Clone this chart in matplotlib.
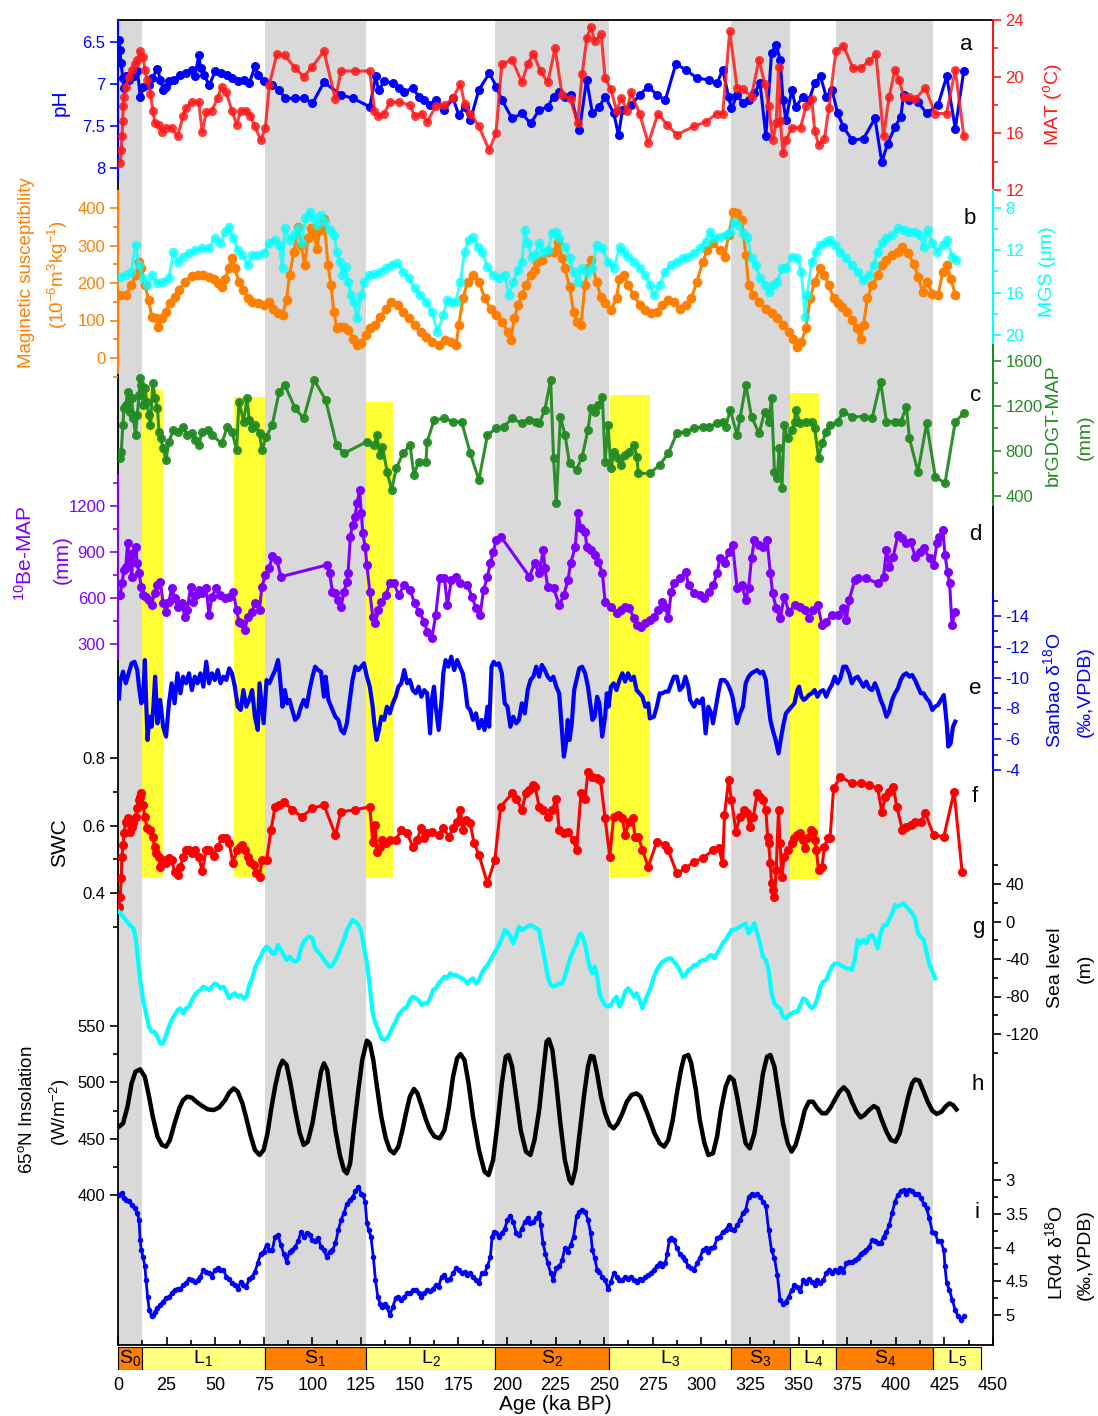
import numpy as np
import matplotlib
matplotlib.use('Agg')
import matplotlib.pyplot as plt
from matplotlib.patches import Rectangle

plt.rcParams['font.family'] = ['Liberation Sans', 'DejaVu Sans']
plt.rcParams['mathtext.default'] = 'regular'

# ---------------- data (age ka BP, value) ----------------
ph = [(0.5, 6.48), (1.0, 6.60), (1.5, 6.75), (2.5, 6.93), (3.0, 7.05), (4.0, 6.90), (5.5, 6.95), (8.0, 6.91),
      (10.0, 6.85), (11.5, 7.16), (13.0, 7.03), (16.0, 7.01), (17.5, 6.93), (20.3, 6.82), (21.8, 6.95), (23.3, 7.07),
      (24.7, 7.03), (26.3, 6.97), (29.0, 6.95), (32.0, 6.89), (35.0, 6.87), (38.0, 6.83), (39.5, 6.91), (41.6, 6.66),
      (42.5, 6.81), (44.0, 6.89), (47.0, 7.01), (50.0, 6.85), (53.0, 6.87), (56.0, 6.89), (58.7, 6.93), (61.6, 6.97),
      (64.6, 6.95), (67.5, 6.99), (70.5, 6.79), (72.0, 6.89), (75.0, 6.97), (79.3, 7.01), (82.9, 7.07), (85.9, 7.17),
      (91.2, 7.17), (95.6, 7.17), (100.0, 7.23), (105.9, 6.98), (114.8, 7.13), (120.7, 7.17), (129.5, 7.27),
      (132.5, 6.91), (134.0, 7.07), (137.0, 6.97), (141.4, 6.99), (144.3, 7.05), (147.3, 7.09), (151.7, 7.05),
      (154.6, 7.15), (157.6, 7.19), (160.5, 7.25), (163.5, 7.19), (167.9, 7.31), (172.3, 7.17), (175.3, 7.37),
      (178.2, 7.27), (181.2, 7.43), (185.6, 7.07), (191.0, 6.87), (194.5, 7.03), (197.4, 7.19), (202.7, 7.41),
      (207.7, 7.35), (212.2, 7.47), (216.6, 7.31), (221.0, 7.27), (224.0, 7.15), (226.9, 7.09), (229.9, 7.15),
      (232.8, 7.13), (237.3, 7.55), (241.0, 6.95), (244.0, 7.35), (247.6, 7.27), (250.5, 7.15), (255.0, 7.35),
      (257.4, 7.61), (259.4, 7.31), (263.9, 7.25), (268.3, 7.13), (272.7, 7.03), (277.1, 7.13), (281.5, 7.19),
      (286.9, 6.76), (291.9, 6.83), (297.8, 6.93), (303.7, 6.95), (308.1, 6.99), (311.0, 6.83), (314.0, 7.15),
      (315.5, 7.29), (318.4, 7.13), (321.4, 7.23), (324.3, 7.19), (327.3, 7.11), (330.2, 6.99), (333.2, 7.62),
      (336.1, 6.63), (338.5, 6.53), (340.5, 6.71), (342.0, 7.19), (343.5, 7.43), (346.5, 7.07), (348.5, 7.27),
      (352.4, 7.15), (355.4, 7.19), (358.3, 6.99), (361.3, 6.91), (364.2, 7.15), (367.2, 7.07), (370.1, 7.35),
      (373.1, 7.51), (377.5, 7.67), (383.4, 7.65), (389.3, 7.41), (392.8, 7.93), (395.8, 7.71), (399.6, 7.51),
      (402.6, 7.39), (404.0, 7.13), (407.0, 7.19), (411.4, 7.21), (415.8, 7.35), (421.7, 7.25), (426.2, 6.91),
      (430.6, 7.53), (435.0, 6.84)]

mat = [(1.1, 13.9), (1.7, 14.8), (2.0, 15.8), (2.5, 16.9), (2.6, 17.9), (3.1, 18.6), (4.0, 19.3), (5.5, 20.0),
       (7.0, 20.5), (8.5, 20.9), (9.9, 21.2), (11.4, 21.8), (12.9, 21.4), (13.8, 20.5), (15.0, 19.8), (16.7, 18.8),
       (17.9, 17.6), (19.1, 16.7), (20.9, 16.6), (22.6, 16.1), (24.7, 16.4), (27.6, 16.4), (30.6, 15.8), (33.5, 17.2),
       (35.0, 17.8), (38.0, 18.2), (41.5, 18.2), (43.3, 16.1), (45.4, 17.5), (48.3, 17.6), (51.3, 18.5), (53.3, 19.3),
       (55.7, 18.9), (58.6, 17.6), (61.0, 16.6), (63.1, 17.6), (66.0, 17.6), (68.1, 17.2), (70.4, 16.5), (73.4, 15.5),
       (75.8, 16.4), (77.8, 19.4), (81.7, 21.6), (85.8, 21.5), (91.1, 20.6), (95.5, 20.0), (99.9, 20.7),
       (105.9, 21.8), (111.8, 18.4), (114.7, 20.4), (122.1, 20.4), (129.5, 20.4), (131.9, 17.6), (133.9, 17.2),
       (136.9, 17.4), (139.8, 18.2), (144.3, 18.2), (150.2, 18.0), (152.5, 17.2), (156.1, 17.4), (159.0, 16.8),
       (163.4, 17.9), (167.9, 18.0), (172.3, 18.5), (176.1, 19.5), (178.2, 18.1), (181.2, 17.4), (185.6, 16.5),
       (190.9, 14.8), (194.4, 16.0), (197.4, 20.9), (202.7, 21.2), (207.7, 19.6), (210.7, 20.9), (213.6, 21.6),
       (217.3, 20.4), (221.0, 19.6), (224.8, 22.0), (228.4, 18.7), (232.8, 18.4), (236.4, 16.7), (238.7, 20.2),
       (241.1, 22.7), (243.1, 23.5), (245.2, 22.5), (248.5, 23.0), (250.5, 19.9), (253.5, 19.1), (256.4, 17.6),
       (258.8, 18.5), (261.7, 17.6), (263.8, 18.9), (268.2, 17.4), (272.7, 15.3), (277.7, 17.4), (282.4, 16.6),
       (287.4, 15.9), (296.3, 16.5), (302.2, 16.8), (308.1, 17.4), (311.0, 17.4), (314.6, 23.2), (318.4, 19.2),
       (321.4, 19.1), (325.8, 18.6), (329.6, 21.2), (332.6, 19.5), (334.7, 17.9), (336.7, 15.5), (338.5, 16.7),
       (339.7, 20.7), (340.6, 16.9), (342.0, 14.6), (343.5, 15.5), (346.5, 16.4), (351.0, 16.4), (353.8, 17.9),
       (356.8, 18.4), (358.3, 16.2), (360.3, 15.2), (363.3, 15.6), (365.6, 17.8), (369.2, 21.8), (373.0, 22.2),
       (378.0, 20.6), (381.9, 20.6), (386.3, 21.1), (389.8, 21.6), (393.7, 15.8), (396.6, 18.6), (399.6, 20.5),
       (401.7, 19.8), (404.0, 18.6), (407.0, 18.6), (409.9, 18.4), (415.2, 19.2), (420.3, 17.4), (426.1, 17.4),
       (430.6, 20.5), (435.0, 15.8)]

mag_sus = [(1.1, 168), (4.0, 168), (6.9, 195), (9.0, 221), (10.8, 257), (12.0, 239), (13.8, 195), (15.8, 155),
           (17.3, 110), (19.7, 106), (20.8, 84), (22.6, 106), (24.7, 124), (26.7, 146), (29.1, 164), (31.5, 181),
           (34.4, 204), (37.9, 220), (40.9, 221), (43.9, 221), (46.8, 217), (49.2, 212), (51.2, 199), (53.3, 190),
           (55.1, 212), (57.1, 239), (58.6, 266), (60.1, 239), (62.2, 204), (64.5, 181), (66.9, 159), (69.0, 150),
           (71.9, 146), (74.9, 141), (77.8, 150), (79.9, 132), (82.2, 119), (84.6, 115), (86.7, 155), (88.2, 221),
           (90.5, 284), (92.6, 350), (94.1, 301), (96.1, 248), (97.6, 319), (99.4, 346), (100.9, 328), (102.3, 292),
           (103.8, 341), (106.0, 372), (108.0, 248), (109.5, 195), (111.0, 124), (112.5, 79), (114.3, 84),
           (116.3, 84), (118.4, 75), (120.8, 52), (123.1, 35), (125.2, 39), (127.3, 61), (129.6, 79), (132.0, 88),
           (134.9, 110), (137.9, 132), (140.5, 150), (143.8, 141), (146.7, 124), (149.7, 106), (152.6, 88),
           (155.6, 70), (158.5, 57), (161.5, 44), (165.0, 35), (168.0, 48), (171.5, 44), (173.9, 35), (175.3, 88),
           (177.4, 159), (179.8, 204), (182.7, 221), (185.7, 204), (188.6, 159), (191.6, 132), (194.5, 115),
           (197.5, 97), (200.4, 70), (201.9, 48), (203.9, 106), (205.7, 141), (207.8, 168), (209.8, 195),
           (212.2, 221), (214.2, 235), (215.7, 257), (218.1, 261), (221.0, 284), (224.0, 284), (226.3, 310),
           (228.4, 266), (229.9, 239), (232.2, 190), (234.3, 124), (235.8, 97), (238.1, 88), (240.2, 195),
           (241.7, 239), (243.2, 261), (246.1, 204), (248.2, 164), (250.5, 146), (253.5, 128), (256.4, 159),
           (257.9, 212), (260.0, 221), (262.3, 195), (265.3, 168), (268.2, 141), (271.2, 128), (274.1, 119),
           (277.1, 124), (280.0, 141), (283.0, 155), (286.0, 150), (288.9, 132), (291.9, 141), (294.8, 159),
           (297.8, 204), (300.7, 257), (303.1, 288), (306.0, 306), (309.6, 288), (312.0, 270), (314.0, 328),
           (316.4, 390), (318.4, 386), (320.8, 368), (322.9, 275), (324.3, 195), (326.7, 168), (329.7, 150),
           (333.2, 132), (336.1, 119), (339.1, 106), (342.0, 88), (345.0, 70), (347.0, 52), (349.4, 30), (351.5, 44),
           (353.8, 79), (355.9, 159), (358.3, 204), (361.2, 239), (363.3, 221), (365.6, 195), (368.0, 159),
           (370.1, 146), (372.4, 137), (375.1, 124), (377.5, 101), (379.8, 79), (381.9, 52), (383.4, 88),
           (385.4, 159), (387.8, 195), (390.8, 221), (392.8, 248), (395.2, 261), (398.1, 275), (401.1, 284),
           (403.4, 297), (406.4, 279), (409.3, 252), (411.4, 217), (413.8, 177), (415.9, 204), (418.8, 172),
           (421.8, 168), (424.1, 230), (426.2, 248), (428.3, 212), (430.6, 168)]

mgs = [(1.1, 14.49), (4.0, 14.33), (6.9, 14.02), (9.0, 11.50), (10.8, 13.39), (12.9, 14.65), (14.9, 15.28),
       (17.3, 14.33), (20.3, 15.12), (23.2, 14.96), (26.2, 14.65), (28.5, 12.13), (30.6, 13.07), (33.6, 12.60),
       (36.5, 12.28), (39.5, 11.97), (43.3, 11.81), (46.8, 11.81), (49.8, 10.87), (52.7, 11.34), (55.1, 10.24),
       (57.2, 9.76), (59.2, 10.87), (61.6, 11.97), (64.0, 12.44), (66.9, 13.39), (69.0, 12.44), (71.9, 12.44),
       (74.9, 12.28), (77.8, 11.34), (80.8, 11.02), (82.9, 11.50), (84.6, 13.70), (85.8, 9.92), (88.2, 11.02),
       (90.5, 10.55), (92.6, 9.92), (94.6, 11.34), (96.4, 8.98), (98.5, 8.35), (100.6, 8.98), (102.3, 9.61),
       (104.4, 8.66), (106.5, 9.29), (108.8, 10.08), (111.2, 10.55), (112.4, 12.13), (114.1, 13.07),
       (115.3, 14.33), (117.1, 13.54), (118.3, 14.96), (119.8, 16.22), (121.2, 16.85), (123.0, 18.43),
       (125.1, 16.22), (126.6, 14.96), (128.9, 14.33), (131.9, 14.27), (134.8, 14.02), (137.8, 13.70),
       (140.7, 13.39), (143.7, 13.23), (146.6, 14.02), (149.6, 14.65), (152.5, 15.59), (155.5, 16.22),
       (158.4, 16.85), (161.4, 17.80), (164.3, 19.69), (167.3, 18.11), (169.3, 16.69), (171.4, 16.85),
       (173.8, 16.85), (176.1, 14.96), (178.2, 12.13), (180.3, 11.02), (182.6, 10.71), (185.0, 11.65),
       (187.1, 12.13), (190.0, 13.54), (193.0, 14.33), (195.9, 14.65), (198.9, 14.33), (201.0, 16.22),
       (203.3, 14.96), (205.7, 13.86), (207.8, 13.07), (209.2, 10.08), (210.7, 11.34), (212.8, 12.60),
       (214.5, 12.44), (216.6, 11.34), (218.7, 12.13), (221.0, 11.97), (223.4, 10.39), (225.4, 10.24),
       (226.9, 10.87), (229.9, 11.65), (232.2, 12.76), (234.3, 14.02), (236.4, 14.96), (238.7, 13.70),
       (241.1, 14.17), (244.0, 13.70), (246.1, 11.50), (249.1, 11.81), (252.0, 13.07), (255.0, 13.70),
       (258.0, 11.65), (260.0, 12.13), (262.4, 12.60), (265.3, 13.07), (268.3, 13.70), (271.2, 14.33),
       (273.6, 15.28), (275.6, 16.22), (278.6, 15.28), (281.5, 14.02), (284.5, 13.39), (287.4, 13.07),
       (290.4, 12.76), (293.3, 12.60), (296.3, 12.28), (299.3, 11.81), (302.2, 11.18), (304.3, 10.24),
       (306.6, 10.87), (309.6, 10.71), (312.5, 10.55), (314.9, 10.24), (317.0, 9.29), (319.0, 9.61),
       (321.4, 10.39), (323.7, 10.71), (325.8, 12.76), (327.9, 13.39), (330.2, 14.65), (332.6, 15.28),
       (334.7, 15.91), (336.7, 15.28), (339.1, 14.96), (341.5, 13.70), (343.5, 13.70), (346.5, 12.60),
       (349.4, 12.76), (351.5, 14.02), (353.3, 18.27), (354.4, 16.22), (356.8, 13.07), (359.1, 12.13),
       (361.2, 11.50), (364.2, 11.18), (366.2, 11.02), (368.6, 11.50), (371.5, 12.13), (374.5, 12.76),
       (377.4, 13.39), (380.4, 14.02), (383.3, 14.80), (386.3, 14.33), (388.7, 13.39), (390.7, 12.13),
       (392.8, 11.34), (395.2, 10.87), (398.1, 10.55), (401.1, 9.92), (404.0, 10.08), (407.0, 10.24),
       (410.0, 10.24), (412.3, 10.55), (414.4, 11.65), (416.5, 10.08), (418.8, 11.34), (421.2, 12.13),
       (424.1, 11.50), (426.2, 11.02), (429.1, 12.60), (431.2, 12.91)]

brgdgt_map = [(1.1, 735), (1.7, 794), (2.5, 1031), (3.1, 1179), (4.0, 1209), (4.9, 1327), (6.1, 1150), (7.0, 1268),
              (7.9, 1090), (9.0, 942), (9.9, 1120), (10.8, 1298), (11.4, 1446), (12.0, 1387), (12.9, 1209),
              (13.8, 1357), (14.9, 1238), (15.8, 1120), (16.7, 1031), (17.9, 1401), (19.1, 1268), (20.3, 1179),
              (21.1, 972), (22.0, 912), (23.2, 824), (24.7, 720), (26.2, 883), (28.5, 987), (30.6, 972),
              (33.5, 1016), (35.6, 942), (38.0, 957), (39.5, 898), (41.5, 853), (43.3, 972), (46.2, 987),
              (48.3, 942), (53.3, 868), (56.3, 1016), (58.6, 972), (61.0, 809), (62.2, 1238), (64.6, 1061),
              (66.3, 1268), (67.5, 1076), (69.0, 1001), (70.4, 1031), (72.8, 957), (74.0, 809), (76.3, 927),
              (79.3, 1031), (82.9, 1327), (85.8, 1387), (91.1, 1179), (95.5, 1090), (100.9, 1431), (106.8, 1253),
              (112.4, 853), (116.2, 779), (128.0, 883), (131.9, 853), (133.0, 942), (134.8, 764), (136.0, 838),
              (138.4, 616), (140.7, 453), (143.1, 646), (146.6, 779), (150.2, 853), (152.2, 587), (154.6, 705),
              (158.4, 705), (159.0, 883), (162.6, 1076), (167.9, 1090), (172.3, 1061), (176.7, 1061), (181.2, 779),
              (185.6, 542), (190.0, 942), (194.5, 1001), (198.3, 1016), (202.7, 1090), (207.7, 1046),
              (211.6, 1076), (215.1, 1061), (216.6, 1046), (219.5, 1164), (222.5, 1431), (224.0, 735),
              (225.4, 335), (227.5, 1105), (229.9, 942), (232.2, 690), (235.8, 631), (238.7, 750), (241.7, 987),
              (243.2, 1179), (245.2, 1150), (247.0, 1209), (249.1, 1283), (250.5, 705), (252.0, 1031),
              (253.5, 646), (255.3, 794), (257.0, 735), (258.8, 676), (260.9, 764), (263.0, 794), (265.3, 853),
              (266.8, 750), (267.6, 601), (273.6, 601), (278.6, 676), (283.0, 779), (287.4, 957), (291.9, 972),
              (296.3, 1001), (300.7, 1016), (303.7, 1016), (308.1, 1046), (311.0, 1061), (312.5, 1016),
              (314.9, 1164), (318.4, 942), (319.9, 1090), (322.9, 1387), (325.8, 1105), (329.7, 957),
              (332.6, 1150), (334.7, 1061), (336.1, 1268), (337.6, 616), (339.1, 557), (340.0, 824), (341.5, 468),
              (342.6, 1031), (344.4, 912), (346.5, 987), (348.0, 1061), (348.5, 1164), (350.9, 1046),
              (353.9, 1061), (356.8, 1061), (358.3, 1001), (360.3, 735), (362.1, 868), (364.2, 972), (366.2, 1031),
              (370.1, 1061), (373.0, 1150), (377.5, 1105), (383.4, 1105), (387.8, 1090), (392.2, 1416),
              (395.2, 1061), (399.6, 1061), (402.6, 1061), (405.5, 1194), (407.0, 912), (411.4, 616),
              (415.9, 1046), (420.3, 572), (425.3, 513), (430.6, 1061), (435.0, 1135)]

be10_map = [(1.1, 620), (2.0, 696), (3.1, 783), (4.0, 804), (4.9, 957), (6.1, 848), (7.0, 739), (7.9, 891),
            (9.0, 935), (9.9, 826), (10.8, 761), (12.0, 674), (12.9, 620), (14.4, 609), (15.8, 587), (17.3, 554),
            (18.8, 630), (20.3, 685), (21.7, 707), (23.2, 565), (24.7, 511), (26.2, 576), (27.6, 663), (29.1, 598),
            (30.6, 543), (32.7, 565), (34.4, 478), (35.6, 522), (37.4, 674), (38.8, 576), (40.3, 620), (41.5, 652),
            (43.3, 630), (45.4, 663), (46.8, 489), (48.3, 609), (50.4, 663), (52.7, 620), (55.1, 598), (57.2, 609),
            (59.2, 641), (61.0, 522), (62.2, 446), (63.4, 435), (65.1, 391), (66.9, 478), (69.0, 511), (70.4, 565),
            (72.8, 522), (74.0, 674), (75.8, 750), (77.8, 793), (79.3, 874), (81.7, 848), (83.8, 739),
            (107.3, 815), (108.8, 761), (110.3, 641), (111.8, 630), (113.3, 587), (114.7, 543), (116.2, 641),
            (117.7, 707), (118.3, 761), (119.5, 1000), (120.6, 1076), (121.8, 1130), (123.0, 1217), (124.2, 1304),
            (125.1, 1152), (125.9, 1022), (127.1, 935), (128.0, 815), (129.5, 641), (131.0, 478), (132.4, 435),
            (133.9, 522), (135.4, 576), (137.8, 620), (139.8, 696), (141.9, 696), (144.3, 620), (147.2, 685),
            (150.2, 652), (152.6, 565), (154.6, 511), (157.6, 446), (159.0, 380), (161.4, 337), (163.4, 489),
            (165.5, 728), (167.9, 728), (169.4, 554), (171.4, 717), (173.8, 739), (176.1, 696), (179.7, 685),
            (182.0, 609), (184.1, 533), (186.2, 489), (188.0, 652), (190.0, 739), (191.5, 826), (193.0, 902),
            (194.5, 978), (196.9, 1000), (211.6, 739), (214.2, 826), (216.6, 761), (218.7, 913), (219.5, 793),
            (221.0, 674), (224.0, 663), (227.0, 554), (229.3, 620), (231.4, 717), (232.8, 826), (235.2, 935),
            (236.4, 1152), (238.1, 1054), (240.2, 1033), (241.1, 935), (243.2, 913), (245.2, 880), (247.0, 837),
            (249.1, 761), (250.5, 576), (253.5, 543), (256.4, 500), (258.8, 522), (260.9, 543), (263.0, 533),
            (265.3, 467), (266.8, 424), (268.8, 413), (271.2, 435), (273.6, 457), (275.6, 478), (277.7, 522),
            (280.0, 576), (281.5, 543), (283.0, 467), (284.5, 641), (286.0, 696), (288.9, 728), (291.9, 772),
            (293.4, 685), (296.3, 630), (299.3, 620), (301.4, 598), (303.7, 641), (306.1, 685), (308.1, 761),
            (309.6, 859), (312.0, 826), (314.0, 902), (316.1, 946), (318.4, 663), (320.8, 685), (322.9, 587),
            (324.3, 663), (325.8, 859), (327.3, 978), (329.6, 946), (331.7, 935), (333.8, 978), (335.5, 761),
            (336.7, 630), (338.5, 533), (340.6, 467), (342.6, 609), (345.0, 511), (348.0, 554), (350.9, 543),
            (353.3, 522), (355.3, 467), (357.4, 522), (359.8, 554), (362.1, 424), (364.2, 446), (367.1, 489),
            (370.1, 489), (373.0, 533), (374.5, 457), (376.0, 587), (378.9, 717), (380.4, 728), (384.8, 728),
            (390.7, 696), (393.7, 739), (395.2, 913), (396.6, 804), (398.7, 870), (401.1, 1011), (403.4, 989),
            (405.5, 957), (407.6, 968), (410.0, 870), (412.3, 902), (414.4, 924), (417.4, 859), (419.4, 815),
            (421.2, 957), (422.4, 1000), (424.2, 1043), (425.3, 880), (426.6, 772), (427.7, 696), (428.9, 424),
            (430.6, 511)]

sanbao_d18o = [(0.5, -8.65), (1.1, -9.74), (2.6, -10.39), (4.0, -9.63), (5.5, -10.28), (7.0, -10.93), (8.5, -11.03),
               (9.9, -10.49), (10.8, -9.41), (12.0, -8.33), (12.9, -8.55), (13.8, -11.14), (14.4, -8.76),
               (15.2, -5.95), (16.1, -7.46), (17.3, -6.81), (18.2, -8.11), (19.1, -10.06), (20.3, -7.03),
               (21.7, -8.55), (23.2, -6.81), (24.7, -6.17), (26.2, -8.33), (27.6, -9.63), (29.1, -8.33),
               (30.6, -10.28), (32.1, -8.98), (33.5, -10.06), (35.0, -9.63), (36.5, -10.28), (38.0, -9.19),
               (39.5, -10.06), (40.9, -9.63), (42.4, -10.28), (43.9, -9.41), (45.4, -11.03), (46.8, -9.63),
               (48.3, -10.28), (49.8, -9.84), (51.3, -10.49), (52.7, -9.63), (54.2, -10.06), (55.7, -9.84),
               (57.2, -10.60), (58.6, -10.28), (60.1, -9.41), (61.6, -8.11), (63.1, -7.90), (64.5, -9.19),
               (66.0, -8.11), (67.5, -8.55), (69.0, -9.19), (70.4, -7.46), (71.9, -6.60), (72.8, -9.63),
               (74.0, -8.11), (74.9, -7.03), (76.4, -9.84), (77.8, -9.63), (79.3, -10.06), (80.8, -10.49),
               (82.3, -11.14), (83.1, -10.28), (84.6, -8.11), (85.8, -9.19), (87.0, -8.33), (88.2, -8.55),
               (89.6, -7.90), (91.1, -7.25), (92.6, -7.46), (94.1, -8.11), (95.5, -8.55), (97.0, -8.11),
               (98.5, -9.19), (100.0, -10.06), (101.4, -10.71), (102.9, -10.49), (104.4, -10.39), (105.9, -8.76),
               (106.8, -10.06), (108.2, -8.55), (110.3, -7.90), (111.8, -7.46), (113.3, -7.25), (114.7, -6.60),
               (116.2, -6.38), (117.7, -7.03), (119.2, -8.55), (120.6, -9.84), (122.1, -10.71), (123.6, -10.49),
               (125.1, -10.71), (126.5, -10.93), (128.0, -10.06), (129.5, -9.41), (131.0, -8.11), (131.8, -7.03),
               (133.0, -5.95), (134.2, -6.60), (135.4, -7.46), (136.9, -7.25), (138.3, -8.11), (139.8, -7.68),
               (141.3, -8.33), (142.8, -8.76), (144.2, -9.41), (145.7, -9.63), (147.2, -10.49), (148.7, -9.63),
               (150.1, -9.84), (151.6, -9.19), (153.1, -8.98), (154.6, -9.41), (156.0, -8.76), (157.5, -9.19),
               (159.0, -8.98), (160.5, -6.38), (161.4, -8.55), (162.5, -9.41), (163.4, -8.11), (164.9, -6.60),
               (166.4, -8.55), (167.3, -10.28), (168.5, -11.14), (169.9, -10.71), (171.4, -11.36), (172.9, -10.49),
               (174.4, -11.14), (175.8, -10.71), (177.3, -10.28), (178.5, -9.41), (179.7, -8.11), (181.1, -7.90),
               (182.6, -7.25), (184.1, -7.68), (185.6, -6.71), (187.0, -7.25), (188.5, -6.60), (190.0, -8.11),
               (190.9, -6.81), (192.1, -10.71), (193.2, -11.03), (194.4, -10.82), (195.9, -10.93), (197.4, -10.28),
               (198.9, -8.33), (200.3, -8.11), (201.8, -6.81), (203.3, -7.46), (204.8, -7.03), (206.2, -7.25),
               (207.7, -8.33), (209.2, -7.68), (210.7, -9.19), (212.1, -9.84), (213.6, -10.06), (215.1, -10.71),
               (216.6, -10.06), (218.0, -10.82), (219.5, -10.49), (221.0, -10.06), (222.5, -9.84), (223.9, -10.06),
               (225.4, -9.41), (226.9, -8.98), (228.4, -6.38), (229.3, -4.87), (230.4, -5.73), (231.3, -7.25),
               (232.2, -5.95), (233.4, -7.03), (234.6, -9.19), (235.8, -9.84), (237.2, -10.60), (238.7, -10.71),
               (240.2, -10.28), (241.7, -9.41), (243.1, -8.11), (244.0, -7.25), (245.2, -7.46), (246.4, -8.76),
               (247.6, -8.33), (249.0, -6.17), (250.5, -7.46), (251.4, -8.98), (252.3, -8.11), (253.5, -9.41),
               (254.9, -9.63), (256.4, -9.19), (257.9, -9.84), (259.4, -10.28), (260.8, -9.74), (262.3, -10.28),
               (263.8, -9.84), (265.3, -10.06), (266.7, -9.19), (268.2, -8.98), (269.7, -8.76), (271.2, -8.11),
               (272.7, -8.33), (273.5, -7.35), (275.6, -7.46), (277.1, -8.11), (278.6, -8.98), (280.0, -8.98),
               (281.5, -9.09), (283.0, -9.09), (285.9, -10.06), (287.4, -10.06), (288.9, -9.19), (290.4, -9.41),
               (291.8, -10.06), (293.3, -9.41), (294.2, -8.55), (296.3, -8.11), (297.7, -8.55), (299.2, -8.33),
               (300.7, -8.65), (302.2, -6.38), (303.6, -8.11), (305.1, -7.68), (306.0, -7.03), (307.5, -8.11),
               (309.0, -9.19), (310.1, -9.84), (311.9, -9.84), (313.4, -9.63), (314.9, -9.19), (316.0, -8.76),
               (317.2, -7.90), (318.4, -7.03), (319.9, -7.68), (321.4, -8.11), (322.8, -9.63), (324.3, -10.06),
               (325.8, -10.28), (327.3, -10.39), (328.7, -10.49), (330.2, -10.28), (331.7, -10.39), (333.2, -9.84),
               (334.1, -8.76), (335.5, -7.25), (336.7, -6.60), (338.2, -5.95), (339.7, -5.08), (340.8, -5.95),
               (342.0, -6.81), (343.5, -7.68), (345.0, -7.90), (346.4, -8.11), (347.9, -8.33), (349.4, -9.19),
               (350.3, -9.41), (351.5, -8.76), (352.7, -8.55), (353.8, -8.65), (355.3, -8.87), (356.8, -8.98),
               (358.3, -9.19), (359.7, -8.76), (361.2, -9.09), (362.7, -9.19), (364.2, -8.76), (365.6, -9.19),
               (367.1, -9.52), (368.6, -10.06), (370.1, -9.63), (371.5, -9.95), (373.0, -10.71), (374.5, -10.71),
               (376.0, -10.28), (377.4, -9.63), (378.9, -9.95), (380.4, -10.06), (381.9, -9.74), (383.4, -9.41),
               (384.8, -9.74), (386.3, -9.30), (387.8, -9.19), (389.3, -9.63), (390.7, -9.19), (392.2, -8.55),
               (393.7, -8.11), (395.2, -7.46), (396.6, -7.79), (398.1, -8.55), (399.6, -8.98), (401.1, -9.30),
               (402.5, -9.84), (404.0, -10.17), (405.5, -10.28), (407.0, -10.06), (408.4, -10.17), (409.9, -9.84),
               (411.4, -9.41), (412.9, -8.98), (414.3, -8.98), (415.8, -8.65), (417.3, -8.44), (418.8, -7.90),
               (420.2, -8.11), (421.7, -8.22), (423.2, -8.55), (424.7, -8.87), (426.2, -7.03), (427.0, -5.52),
               (428.2, -5.73), (429.4, -6.81), (430.6, -7.14)]

swc = [(0.5, 0.360), (1.1, 0.389), (1.7, 0.443), (2.0, 0.508), (2.6, 0.542), (3.1, 0.577), (4.0, 0.611),
       (4.9, 0.621), (6.1, 0.582), (7.0, 0.597), (7.9, 0.606), (9.0, 0.626), (9.9, 0.651), (10.8, 0.676),
       (11.4, 0.685), (12.0, 0.695), (12.9, 0.661), (13.8, 0.626), (15.0, 0.592), (16.7, 0.587), (17.9, 0.567),
       (18.8, 0.537), (19.7, 0.518), (20.9, 0.508), (21.7, 0.478), (23.2, 0.498), (24.7, 0.488), (26.2, 0.503),
       (27.6, 0.498), (29.1, 0.463), (30.6, 0.453), (32.1, 0.478), (33.5, 0.508), (35.0, 0.527), (36.5, 0.527),
       (38.0, 0.518), (39.5, 0.527), (41.5, 0.508), (43.3, 0.466), (45.4, 0.527), (46.8, 0.527), (49.2, 0.510),
       (51.3, 0.537), (53.3, 0.562), (55.7, 0.562), (57.2, 0.547), (59.2, 0.488), (61.0, 0.527), (62.5, 0.537),
       (64.0, 0.542), (65.1, 0.527), (66.9, 0.508), (68.1, 0.493), (69.9, 0.483), (71.0, 0.458), (72.8, 0.448),
       (74.0, 0.498), (76.4, 0.498), (78.7, 0.587), (80.8, 0.656), (82.9, 0.661), (85.2, 0.671), (89.6, 0.646),
       (94.6, 0.626), (100.0, 0.651), (105.9, 0.661), (111.8, 0.572), (114.7, 0.641), (122.1, 0.646),
       (129.5, 0.656), (131.0, 0.552), (132.4, 0.601), (133.0, 0.522), (134.8, 0.537), (136.0, 0.557),
       (137.7, 0.547), (139.8, 0.557), (142.8, 0.557), (145.7, 0.587), (148.7, 0.577), (151.6, 0.537),
       (153.7, 0.557), (156.0, 0.592), (157.5, 0.562), (159.0, 0.577), (161.4, 0.582), (164.9, 0.572),
       (167.3, 0.592), (170.2, 0.567), (172.3, 0.592), (174.4, 0.611), (176.1, 0.646), (177.3, 0.587),
       (179.1, 0.616), (181.1, 0.606), (183.2, 0.547), (185.6, 0.513), (190.0, 0.429), (193.8, 0.498),
       (196.8, 0.656), (202.7, 0.695), (204.8, 0.680), (207.7, 0.646), (209.8, 0.695), (211.5, 0.705),
       (213.3, 0.720), (214.5, 0.715), (216.6, 0.656), (218.6, 0.646), (221.0, 0.626), (223.4, 0.646),
       (225.4, 0.680), (226.9, 0.587), (229.3, 0.577), (231.3, 0.582), (234.3, 0.557), (235.8, 0.527),
       (238.1, 0.695), (240.2, 0.680), (241.7, 0.760), (244.0, 0.745), (246.1, 0.740), (248.1, 0.735),
       (250.5, 0.621), (252.9, 0.508), (254.9, 0.626), (257.0, 0.631), (259.4, 0.621), (260.8, 0.572),
       (262.9, 0.611), (264.7, 0.621), (265.9, 0.567), (267.6, 0.567), (269.7, 0.527), (272.7, 0.478),
       (277.1, 0.552), (281.5, 0.542), (283.0, 0.527), (287.4, 0.458), (291.8, 0.473), (296.3, 0.493),
       (300.7, 0.503), (306.0, 0.527), (309.0, 0.532), (311.0, 0.488), (311.9, 0.631), (314.0, 0.735),
       (315.5, 0.676), (317.8, 0.582), (319.9, 0.626), (322.0, 0.646), (323.7, 0.636), (324.9, 0.597),
       (326.7, 0.626), (328.7, 0.695), (330.2, 0.685), (331.7, 0.676), (333.2, 0.646), (334.1, 0.567),
       (334.6, 0.547), (335.5, 0.488), (336.1, 0.429), (336.7, 0.409), (337.6, 0.389), (338.5, 0.468),
       (339.7, 0.646), (340.5, 0.547), (341.4, 0.448), (342.6, 0.508), (344.4, 0.527), (346.4, 0.547),
       (347.9, 0.562), (349.4, 0.572), (350.9, 0.577), (352.4, 0.557), (353.2, 0.532), (354.4, 0.562),
       (356.2, 0.587), (357.4, 0.582), (358.3, 0.557), (359.1, 0.527), (360.3, 0.468), (362.1, 0.478),
       (363.3, 0.537), (365.0, 0.562), (366.2, 0.562), (368.0, 0.710), (371.5, 0.745), (377.4, 0.725),
       (381.9, 0.725), (386.3, 0.720), (390.7, 0.710), (392.8, 0.641), (394.6, 0.685), (396.6, 0.700),
       (398.7, 0.715), (400.5, 0.656), (403.4, 0.587), (405.5, 0.597), (407.6, 0.601), (409.9, 0.611),
       (412.9, 0.611), (415.2, 0.636), (419.4, 0.572), (424.7, 0.567), (430.0, 0.700), (434.1, 0.463)]

sea_level = [(0.5, 10.5), (2.0, 6.9), (4.0, 1.6), (6.1, -3.7), (7.9, -7.3), (9.0, -16.2), (9.9, -34.0),
             (11.4, -62.4), (12.9, -83.7), (14.4, -98.0), (15.8, -112.2), (17.3, -117.5), (18.8, -117.5),
             (20.3, -122.9), (21.7, -130.0), (23.2, -130.0), (24.7, -121.1), (26.2, -112.2), (27.6, -105.1),
             (29.1, -99.7), (30.6, -94.4), (32.1, -92.6), (33.5, -98.0), (35.0, -92.6), (36.5, -90.9),
             (38.0, -83.7), (39.5, -78.4), (40.9, -74.9), (42.4, -73.1), (43.9, -69.5), (45.4, -71.3),
             (46.8, -73.1), (48.3, -69.5), (49.8, -66.0), (51.3, -67.7), (52.7, -71.3), (54.2, -69.5),
             (55.7, -74.9), (57.2, -82.0), (58.6, -78.4), (60.1, -76.6), (61.6, -80.2), (63.1, -78.4),
             (64.5, -82.0), (66.0, -80.2), (67.5, -67.7), (69.0, -60.6), (70.4, -50.0), (71.9, -42.9),
             (73.4, -37.5), (74.9, -30.4), (76.4, -26.8), (77.8, -28.6), (79.3, -34.0), (80.8, -34.0),
             (82.3, -25.1), (83.7, -30.4), (85.2, -35.7), (86.7, -41.1), (88.2, -37.5), (89.6, -41.1),
             (91.1, -42.9), (92.6, -41.1), (94.1, -28.6), (95.5, -21.5), (97.0, -18.0), (98.5, -16.2),
             (100.0, -18.0), (101.4, -28.6), (102.9, -32.2), (104.4, -35.7), (105.9, -41.1), (107.3, -44.6),
             (108.8, -48.2), (110.3, -46.4), (111.8, -41.1), (113.3, -34.0), (114.7, -26.8), (116.2, -19.7),
             (117.7, -9.1), (119.2, -3.7), (120.6, 1.6), (122.1, -0.2), (123.6, -3.7), (125.1, -10.8),
             (126.5, -26.8), (128.0, -44.6), (129.5, -69.5), (131.0, -98.0), (132.4, -108.6), (133.9, -115.7),
             (135.4, -124.6), (136.9, -126.4), (138.3, -124.6), (139.8, -119.3), (141.3, -112.2), (142.8, -106.9),
             (144.2, -99.7), (145.7, -96.2), (147.2, -92.6), (148.7, -90.9), (150.1, -83.7), (151.6, -80.2),
             (153.1, -82.0), (154.6, -83.7), (156.0, -89.1), (157.5, -87.3), (159.0, -87.3), (160.5, -82.0),
             (162.0, -73.1), (163.4, -71.3), (164.9, -66.0), (166.4, -62.4), (167.9, -58.8), (169.3, -60.6),
             (170.8, -55.3), (172.3, -57.1), (173.8, -57.1), (175.2, -58.8), (176.7, -60.6), (178.2, -62.4),
             (179.7, -66.0), (181.1, -62.4), (182.6, -60.6), (184.1, -66.0), (185.6, -62.4), (187.0, -55.3),
             (188.5, -50.0), (190.0, -46.4), (191.5, -41.1), (193.0, -35.7), (194.4, -30.4), (195.9, -25.1),
             (197.4, -18.0), (198.9, -9.1), (200.3, -10.8), (201.8, -16.2), (203.3, -23.3), (204.8, -14.4),
             (206.2, -5.5), (207.7, -9.1), (209.2, -7.3), (210.7, -5.5), (212.1, -3.7), (213.6, -5.5),
             (215.1, -7.3), (216.6, -9.1), (217.4, -19.7), (218.6, -30.4), (219.8, -44.6), (221.0, -58.8),
             (222.5, -67.7), (223.9, -69.5), (225.4, -67.7), (226.9, -66.0), (228.4, -66.0), (229.8, -58.8),
             (231.3, -48.2), (232.8, -37.5), (234.3, -30.4), (235.8, -23.3), (237.2, -14.4), (238.1, -12.6),
             (239.3, -18.0), (240.5, -26.8), (241.7, -41.1), (243.1, -51.7), (244.0, -55.3), (245.2, -48.2),
             (246.4, -58.8), (247.6, -76.6), (249.0, -83.7), (250.5, -89.1), (252.0, -90.9), (253.5, -89.1),
             (254.9, -83.7), (256.4, -80.2), (257.9, -90.9), (259.4, -83.7), (260.8, -74.9), (262.3, -71.3),
             (263.8, -74.9), (265.3, -80.2), (266.7, -76.6), (268.2, -83.7), (269.7, -92.6), (271.2, -83.7),
             (272.7, -76.6), (274.1, -69.5), (275.6, -58.8), (277.1, -51.7), (278.6, -46.4), (280.0, -42.9),
             (281.5, -41.1), (283.0, -39.3), (284.5, -39.3), (285.9, -42.9), (287.4, -46.4), (288.9, -51.7),
             (290.4, -58.8), (291.8, -57.1), (293.3, -51.7), (294.8, -50.0), (296.3, -46.4), (297.7, -46.4),
             (299.2, -42.9), (300.7, -41.1), (302.2, -41.1), (303.6, -37.5), (305.1, -35.7), (306.6, -39.3),
             (308.1, -34.0), (309.6, -28.6), (311.0, -23.3), (312.5, -19.7), (314.0, -14.4), (315.5, -9.1),
             (317.0, -9.1), (318.4, -7.3), (319.9, -5.5), (321.4, -3.7), (322.8, -2.0), (324.3, -12.6),
             (325.8, -7.3), (327.3, -2.0), (328.7, -12.6), (330.2, -23.3), (331.7, -37.5), (333.2, -41.1),
             (334.6, -51.7), (336.1, -76.6), (337.6, -87.3), (339.1, -90.9), (340.5, -92.6), (342.0, -101.5),
             (343.5, -103.3), (345.0, -99.7), (346.4, -98.0), (347.9, -96.2), (349.4, -96.2), (350.9, -89.1),
             (352.4, -82.0), (353.8, -83.7), (355.3, -89.1), (356.8, -92.6), (358.3, -89.1), (359.7, -82.0),
             (361.2, -69.5), (362.7, -64.2), (364.2, -62.4), (365.6, -55.3), (367.1, -48.2), (368.6, -44.6),
             (370.1, -44.6), (371.5, -46.4), (373.0, -48.2), (374.5, -50.0), (376.0, -50.0), (377.4, -51.7),
             (378.9, -41.1), (380.4, -19.7), (381.9, -23.3), (383.4, -19.7), (384.8, -23.3), (386.3, -16.2),
             (387.8, -14.4), (389.3, -19.7), (390.7, -28.6), (392.2, -12.6), (393.7, -3.7), (395.2, -3.7),
             (396.6, 1.6), (398.1, 8.7), (399.6, 17.6), (401.1, 15.8), (402.5, 17.6), (404.0, 19.4), (405.5, 15.8),
             (407.0, 12.3), (408.4, 8.7), (409.9, 3.4), (411.4, -12.6), (412.9, -16.2), (414.3, -19.7),
             (415.8, -32.2), (417.3, -46.4), (418.8, -53.5), (420.2, -60.6)]

insolation = [(0.5, 460.6), (2.6, 463.6), (4.9, 478.4), (7.0, 499.1), (9.0, 509.5), (11.4, 511.5), (13.8, 505.0),
              (15.8, 488.8), (17.9, 469.5), (20.3, 451.8), (22.6, 444.4), (24.7, 442.9), (26.7, 448.8),
              (29.1, 463.6), (31.5, 476.9), (33.5, 484.3), (35.6, 487.3), (38.0, 486.4), (40.3, 482.8),
              (43.3, 479.0), (46.2, 476.0), (49.2, 475.4), (52.1, 477.8), (55.1, 484.3), (57.2, 490.8),
              (59.5, 494.7), (61.6, 491.7), (64.0, 481.3), (66.0, 468.0), (68.1, 453.2), (70.4, 440.0),
              (72.8, 435.5), (74.9, 440.0), (76.9, 454.7), (78.7, 475.4), (80.8, 496.1), (82.9, 512.4),
              (84.6, 519.2), (86.7, 515.4), (88.7, 499.1), (91.1, 475.4), (93.5, 454.7), (95.5, 444.4),
              (97.6, 447.3), (100.0, 463.6), (102.3, 487.3), (104.4, 509.5), (105.9, 516.9), (107.6, 510.9),
              (109.4, 487.3), (111.8, 457.7), (114.1, 435.5), (116.2, 422.1), (117.7, 419.2), (119.4, 428.1),
              (121.2, 457.7), (123.6, 493.2), (125.6, 519.8), (128.0, 537.0), (129.5, 534.6), (131.3, 519.8),
              (133.3, 494.7), (135.4, 469.5), (137.7, 450.3), (139.8, 440.0), (141.9, 437.0), (144.2, 442.9),
              (146.3, 457.7), (148.1, 472.5), (150.1, 487.3), (152.2, 494.1), (154.0, 490.2), (156.0, 479.9),
              (158.4, 466.6), (160.5, 457.7), (162.8, 451.8), (165.5, 450.3), (167.9, 457.7), (170.2, 478.4),
              (172.3, 505.0), (174.4, 521.3), (176.1, 525.1), (178.2, 519.8), (180.3, 499.1), (182.6, 469.5),
              (185.6, 440.0), (188.5, 420.7), (190.6, 417.7), (192.9, 431.1), (195.0, 460.6), (197.4, 499.1),
              (199.4, 522.8), (200.9, 524.3), (202.7, 513.9), (204.8, 487.3), (207.1, 457.7), (209.8, 438.5),
              (212.1, 435.5), (214.2, 448.8), (216.6, 475.4), (218.6, 508.0), (220.4, 536.1), (221.6, 538.2),
              (223.4, 528.7), (225.4, 499.1), (227.5, 463.6), (229.8, 431.1), (232.2, 413.3), (233.4, 410.3),
              (235.2, 422.1), (237.2, 451.8), (239.6, 487.3), (241.7, 513.9), (243.1, 523.4), (244.6, 522.8),
              (246.4, 508.0), (248.4, 487.3), (250.5, 472.5), (252.9, 462.1), (254.9, 459.2), (257.0, 463.6),
              (259.4, 472.5), (261.7, 482.8), (264.1, 488.8), (266.7, 490.2), (268.8, 487.3), (271.2, 476.9),
              (273.5, 466.6), (275.9, 454.7), (278.6, 445.9), (280.9, 442.9), (283.0, 448.8), (285.3, 466.6),
              (287.4, 490.2), (289.5, 510.9), (291.2, 522.8), (293.3, 524.3), (294.8, 516.9), (297.2, 493.2),
              (299.2, 466.6), (301.6, 445.9), (303.6, 435.5), (306.0, 437.0), (308.1, 451.8), (310.1, 475.4),
              (312.5, 496.1), (314.6, 505.0), (316.6, 502.1), (318.4, 487.3), (320.8, 463.6), (322.8, 445.9),
              (324.9, 441.4), (327.3, 454.7), (329.6, 481.3), (331.7, 508.0), (333.8, 522.8), (335.5, 524.3),
              (337.6, 513.9), (339.7, 490.2), (342.0, 463.6), (344.4, 445.9), (346.4, 438.5), (348.5, 444.4),
              (350.9, 459.2), (353.2, 475.4), (355.3, 482.8), (357.4, 482.8), (359.7, 476.9), (362.1, 472.5),
              (364.2, 472.5), (366.2, 476.9), (368.6, 484.3), (371.0, 491.7), (373.3, 495.6), (375.4, 491.7),
              (377.4, 482.8), (379.8, 473.9), (381.9, 468.9), (383.9, 471.0), (386.3, 475.4), (388.7, 479.0),
              (390.7, 476.9), (392.8, 466.6), (395.2, 456.2), (397.5, 448.8), (399.9, 447.3), (402.0, 454.7),
              (404.0, 469.5), (406.4, 487.3), (408.4, 499.1), (409.9, 502.6), (412.0, 501.5), (414.0, 493.2),
              (416.4, 482.8), (418.8, 474.8), (421.1, 471.9), (423.5, 473.9), (425.9, 479.0), (427.6, 481.3),
              (429.4, 479.9), (431.2, 476.0)]

lr04_d18o = [(0.5, 3.22), (2.0, 3.19), (3.1, 3.26), (4.3, 3.30), (5.5, 3.31), (7.0, 3.37), (8.5, 3.42), (9.9, 3.49),
             (10.8, 3.59), (11.4, 3.89), (12.0, 4.04), (12.9, 4.14), (13.8, 4.28), (14.4, 4.48), (15.2, 4.73),
             (16.1, 4.93), (17.3, 5.02), (18.2, 5.00), (19.1, 4.95), (20.3, 4.90), (21.7, 4.85), (23.2, 4.80),
             (24.7, 4.75), (26.2, 4.73), (27.6, 4.68), (29.1, 4.63), (30.6, 4.61), (32.1, 4.61), (33.5, 4.56),
             (35.0, 4.53), (36.5, 4.46), (38.0, 4.48), (39.5, 4.51), (40.9, 4.48), (42.4, 4.43), (43.9, 4.33),
             (45.4, 4.36), (46.8, 4.38), (48.3, 4.43), (49.8, 4.33), (51.3, 4.31), (52.7, 4.33), (54.2, 4.33),
             (55.7, 4.43), (57.2, 4.46), (58.6, 4.53), (60.1, 4.56), (61.6, 4.61), (63.1, 4.51), (64.5, 4.56),
             (66.0, 4.58), (67.5, 4.46), (69.0, 4.43), (70.4, 4.36), (71.9, 4.23), (73.4, 4.09), (74.9, 4.06),
             (76.4, 3.96), (77.8, 4.04), (79.3, 4.04), (80.8, 3.84), (82.3, 3.82), (83.7, 3.96), (85.2, 4.09),
             (86.7, 4.21), (88.2, 4.06), (89.6, 4.04), (91.1, 3.99), (92.6, 3.91), (94.1, 3.77), (95.5, 3.84),
             (97.0, 3.79), (98.5, 3.82), (100.0, 3.89), (101.4, 3.91), (102.9, 3.86), (104.4, 3.99), (105.9, 4.04),
             (107.3, 4.14), (108.8, 4.06), (110.3, 4.04), (111.8, 3.94), (113.3, 3.74), (114.7, 3.59),
             (116.2, 3.49), (117.7, 3.35), (119.2, 3.30), (120.6, 3.25), (122.1, 3.17), (123.6, 3.11),
             (125.1, 3.20), (125.9, 3.22), (127.1, 3.32), (128.0, 3.64), (128.9, 3.74), (130.1, 3.84),
             (131.3, 4.14), (132.4, 4.48), (133.6, 4.73), (134.8, 4.83), (136.0, 4.88), (137.2, 4.83),
             (138.3, 4.88), (139.8, 5.00), (141.3, 4.88), (142.8, 4.75), (144.2, 4.73), (145.7, 4.78),
             (147.2, 4.73), (148.7, 4.68), (150.1, 4.68), (151.6, 4.63), (153.1, 4.63), (154.6, 4.68),
             (156.0, 4.73), (157.5, 4.68), (159.0, 4.63), (160.5, 4.65), (162.0, 4.61), (163.4, 4.56),
             (164.9, 4.58), (166.4, 4.43), (167.9, 4.41), (169.3, 4.48), (170.8, 4.46), (172.3, 4.38),
             (173.8, 4.31), (175.2, 4.33), (176.7, 4.38), (178.2, 4.36), (179.7, 4.41), (181.1, 4.38),
             (182.6, 4.43), (184.1, 4.48), (185.6, 4.53), (187.0, 4.38), (188.5, 4.38), (190.0, 4.28),
             (191.5, 4.14), (192.4, 3.84), (193.2, 3.77), (194.4, 3.79), (195.9, 3.84), (197.4, 3.79),
             (198.9, 3.72), (200.3, 3.59), (201.8, 3.54), (203.3, 3.62), (204.8, 3.79), (206.2, 3.82),
             (207.7, 3.72), (209.2, 3.62), (210.7, 3.57), (212.1, 3.64), (213.6, 3.62), (215.1, 3.57),
             (216.6, 3.49), (217.4, 3.67), (218.6, 3.94), (219.8, 4.09), (221.0, 4.23), (222.5, 4.38),
             (223.9, 4.48), (225.4, 4.31), (226.9, 4.28), (228.4, 4.19), (229.8, 4.01), (231.3, 4.06),
             (232.8, 3.96), (234.3, 3.84), (235.8, 3.54), (237.2, 3.47), (238.7, 3.44), (240.2, 3.47),
             (241.7, 3.59), (243.1, 3.79), (244.0, 4.04), (245.2, 4.16), (246.4, 4.33), (247.6, 4.36),
             (249.0, 4.43), (250.5, 4.48), (252.0, 4.61), (253.5, 4.51), (254.9, 4.38), (256.4, 4.43),
             (257.9, 4.48), (259.4, 4.48), (260.8, 4.43), (262.3, 4.46), (263.8, 4.43), (265.3, 4.48),
             (266.7, 4.51), (268.2, 4.46), (269.7, 4.48), (271.2, 4.43), (272.7, 4.41), (274.1, 4.38),
             (275.6, 4.33), (277.1, 4.28), (278.6, 4.23), (280.0, 4.28), (281.5, 4.23), (282.4, 4.09),
             (283.6, 3.89), (284.5, 3.86), (285.9, 3.89), (287.4, 4.01), (288.9, 4.09), (290.4, 4.14),
             (291.8, 4.19), (293.3, 4.28), (294.8, 4.31), (296.3, 4.33), (297.7, 4.23), (299.2, 4.16),
             (300.7, 4.04), (302.2, 4.01), (303.6, 4.06), (305.1, 4.01), (306.6, 3.99), (308.1, 3.86),
             (309.6, 3.84), (311.0, 3.77), (312.5, 3.74), (314.0, 3.67), (315.5, 3.72), (317.0, 3.74),
             (318.4, 3.67), (319.9, 3.59), (321.4, 3.49), (322.8, 3.44), (324.3, 3.25), (325.8, 3.21),
             (327.3, 3.22), (328.7, 3.20), (330.2, 3.25), (331.7, 3.32), (333.2, 3.39), (334.6, 3.74),
             (336.1, 4.04), (337.6, 4.16), (339.1, 4.41), (340.5, 4.78), (342.0, 4.83), (343.5, 4.80),
             (345.0, 4.73), (346.4, 4.63), (347.9, 4.56), (349.4, 4.58), (350.9, 4.65), (352.4, 4.48),
             (353.8, 4.53), (355.3, 4.46), (356.8, 4.51), (358.3, 4.56), (359.7, 4.48), (361.2, 4.53),
             (362.7, 4.48), (364.2, 4.38), (365.6, 4.33), (367.1, 4.38), (368.6, 4.33), (370.1, 4.36),
             (371.5, 4.31), (373.0, 4.36), (374.5, 4.23), (376.0, 4.21), (377.4, 4.21), (378.9, 4.19),
             (380.4, 4.16), (381.9, 4.09), (383.4, 4.06), (384.8, 4.04), (386.3, 3.99), (387.8, 3.89),
             (389.3, 3.91), (390.7, 3.94), (392.2, 3.94), (393.7, 3.84), (395.2, 3.77), (396.6, 3.67),
             (398.1, 3.49), (399.6, 3.32), (401.1, 3.22), (402.5, 3.17), (404.0, 3.15), (405.5, 3.20),
             (407.0, 3.15), (408.4, 3.17), (409.9, 3.20), (411.4, 3.20), (412.9, 3.27), (414.3, 3.35),
             (415.8, 3.42), (417.3, 3.57), (418.8, 3.77), (420.2, 3.79), (421.7, 3.91), (423.2, 3.91),
             (424.7, 4.04), (425.3, 4.28), (426.2, 4.53), (427.6, 4.63), (429.1, 4.78), (430.6, 4.93),
             (432.1, 5.02), (433.5, 5.07), (435.0, 5.02)]

# pedostratigraphic units (boundaries in ka)
unit_names = ['S$_0$', 'L$_1$', 'S$_1$', 'L$_2$', 'S$_2$', 'L$_3$', 'S$_3$', 'L$_4$', 'S$_4$', 'L$_5$']
unit_edges = [0, 12.4, 75.4, 127.7, 194.0, 252.7, 315.0, 345.5, 369.5, 419.3, 443.7]
# yellow (weak monsoon) intervals
yellow_start = [12.3, 59.6, 127.7, 252.8, 345.4]
yellow_end = [23.2, 75.4, 141.3, 273.5, 360.6]

# ---------------- layout ----------------
W, H = 1098, 1416
TOP, BOT, LEFT, RIGHT = 20, 1345, 118, 993


def fx(px):
    return px / W


def fy(py):
    return 1 - py / H


def afrac(py):
    return (BOT - py) / (BOT - TOP)


fig = plt.figure(figsize=(W / 100, H / 100), dpi=100)
rect = [fx(LEFT), fy(BOT), (RIGHT - LEFT) / W, (BOT - TOP) / H]

main = fig.add_axes(rect)
main.set_xlim(0, 450)
main.set_ylim(0, 1)
main.set_yticks([])
for s in main.spines.values():
    s.set_linewidth(1.3)
main.set_xticks(np.arange(0, 451, 25))
main.set_xticks(np.arange(12.5, 450, 25), minor=True)
main.tick_params(axis='x', which='both', direction='in', labelbottom=False, width=1.2)
main.tick_params(axis='x', which='major', length=6)
main.tick_params(axis='x', which='minor', length=3.5)

for i in range(0, len(unit_names), 2):
    main.axvspan(unit_edges[i], unit_edges[i + 1], color='#d9d9d9', lw=0, zorder=0)

yellow_top = [390, 397, 402, 395, 393]
yellow_bot = [878, 877, 878, 877, 879]
for a, b, t, bt in zip(yellow_start, yellow_end, yellow_top, yellow_bot):
    main.axvspan(a, b, ymin=afrac(bt), ymax=afrac(t), color='#ffff33', lw=0, zorder=1)


def panel(v1, p1, v2, p2, side, color, major, minor, bounds=None):
    ax = fig.add_axes(rect)
    ax.patch.set_visible(False)
    ax.set_xlim(0, 450)
    k = (v2 - v1) / (p2 - p1)
    ax.set_ylim(v1 + k * (BOT - p1), v1 + k * (TOP - p1))
    for s in ax.spines.values():
        s.set_visible(False)
    if bounds is not None:
        sp = ax.spines[side]
        sp.set_visible(True)
        sp.set_bounds(*bounds)
        sp.set_color(color)
        sp.set_linewidth(1.5)
    ax.tick_params(axis='x', which='both', bottom=False, labelbottom=False)
    ax.yaxis.set_ticks_position(side)
    ax.set_yticks(major)
    ax.set_yticklabels([f'{v:g}' for v in major])
    ax.set_yticks(minor, minor=True)
    ax.tick_params(axis='y', which='both', colors=color, direction='out', labelsize=12, width=1.2, pad=3)
    ax.tick_params(axis='y', which='major', length=6)
    ax.tick_params(axis='y', which='minor', length=3.5)
    return ax


def series(ax, data, color, ms=6.5, lw=2.2, alpha=1.0, marker='o'):
    x, y = zip(*data)
    ax.plot(x, y, '-', color=color, lw=lw, marker=marker, ms=ms, mew=0, alpha=alpha)


BLUE, RED, ORANGE, CYAN = '#0000ff', '#ff1a1a', '#ff7f00', '#00ffff'
GREEN, PURPLE = '#238b23', '#8000ff'

# a
ax_ph = panel(6.5, 42, 8, 168, 'left', BLUE, [6.5, 7, 7.5, 8], [], bounds=(6.24, 8.12))
series(ax_ph, ph, BLUE)
ax_mat = panel(24, 20, 12, 190, 'right', RED, [24, 20, 16, 12], [22, 18, 14], bounds=(12, 24))
series(ax_mat, mat, RED, alpha=0.85)

# b
ax_ms = panel(400, 208, 0, 358, 'left', ORANGE, [400, 300, 200, 100, 0], [350, 250, 150, 50, -50],
              bounds=(-40, 445))
series(ax_ms, mag_sus, ORANGE, ms=7)
ax_mgs = panel(8, 208, 20, 335, 'right', CYAN, [8, 12, 16, 20], [10, 14, 18], bounds=(6.3, 20.9))
series(ax_mgs, mgs, CYAN, ms=7, alpha=0.75)

# c
ax_br = panel(1600, 361, 400, 496, 'right', GREEN, [1600, 1200, 800, 400], [1400, 1000, 600],
              bounds=(320, 1740))
series(ax_br, brgdgt_map, GREEN, alpha=0.95)

# d
ax_be = panel(1200, 506, 300, 644, 'left', PURPLE, [1200, 900, 600, 300], [1350, 1050, 750, 450],
              bounds=(200, 1400))
series(ax_be, be10_map, PURPLE)

# e
ax_sb = panel(-14, 616, -4, 770, 'right', BLUE, [-14, -12, -10, -8, -6, -4], [-15, -13, -11, -9, -7, -5],
              bounds=(-15.4, -4))
series(ax_sb, sanbao_d18o, BLUE, ms=0, lw=3, marker=None)

# f
ax_swc = panel(0.8, 758, 0.4, 893, 'left', 'black', [0.8, 0.6, 0.4], [0.7, 0.5, 0.3])
series(ax_swc, swc, '#ff0000')

# g
ax_sl = panel(40, 884, -120, 1034, 'right', 'black', [40, 0, -40, -80, -120], [60, 20, -20, -60, -100, -140])
series(ax_sl, sea_level, CYAN, ms=0, lw=3, marker=None)

# h
ax_in = panel(550, 1026, 400, 1195, 'left', 'black', [550, 500, 450, 400], [525, 475, 425])
series(ax_in, insolation, 'black', ms=0, lw=3.2, marker=None)

# i
ax_lr = panel(3, 1180, 5, 1315, 'right', 'black', [3, 3.5, 4, 4.5, 5], [2.75, 3.25, 3.75, 4.25, 4.75])
series(ax_lr, lr04_d18o, BLUE, ms=4, lw=2)

# panel letters
for letter, px, py in [('a', 966, 44), ('b', 970, 218), ('c', 976, 396), ('d', 975, 534), ('e', 975, 688),
                       ('f', 975, 797), ('g', 978, 928), ('h', 978, 1085), ('i', 977, 1213)]:
    fig.text(fx(px), fy(py), letter, ha='center', va='center', fontsize=16)

# axis titles
NARROW = ['Liberation Sans Narrow', 'Liberation Sans', 'DejaVu Sans']
labels = [
    ('pH', 60, 103, BLUE, 15),
    ('Maginetic susceptibility', 27, 273, ORANGE, 13.5),
    ('(10$^{-6}$m$^{3}$kg$^{-1}$)', 58, 275, ORANGE, 13.5),
    ('$^{10}$Be-MAP', 25, 553, PURPLE, 15),
    ('(mm)', 62, 560, PURPLE, 15),
    ('SWC', 60, 843, 'black', 15),
    ('65$^{o}$N Insolation', 27, 1110, 'black', 13.5),
    ('(W/m$^{-2}$)', 60, 1112, 'black', 13.5),
    ('MAT ($^{o}$C)', 1053, 105, RED, 14),
    ('MGS (μm)', 1048, 272, CYAN, 14),
    ('brGDGT-MAP', 1053, 425, GREEN, 14),
    ('(mm)', 1085, 437, GREEN, 14),
    ('Sanbao δ$^{18}$O', 1053, 690, BLUE, 14),
    ('(‰,VPDB)', 1085, 692, BLUE, 14),
    ('Sea level', 1055, 968, 'black', 14),
    ('(m)', 1085, 968, 'black', 14),
    ('LR04 δ$^{18}$O', 1055, 1253, 'black', 14),
    ('(‰,VPDB)', 1085, 1255, 'black', 14),
]
for text, px, py, c, size in labels:
    fig.text(fx(px), fy(py), text, rotation=90, ha='center', va='center', color=c, fontsize=size,
             family=NARROW)

# stratigraphy bar
bar = fig.add_axes([fx(LEFT), fy(1370), (RIGHT - LEFT) / W, 23 / H])
bar.set_xlim(0, 450)
bar.set_ylim(0, 1)
for i, name in enumerate(unit_names):
    a, b = unit_edges[i], unit_edges[i + 1]
    fc = ORANGE if name.startswith('S') else '#ffff80'
    bar.add_patch(Rectangle((a, 0), b - a, 1, facecolor=fc, edgecolor='black', lw=0.8))
    bar.text((a + b) / 2, 0.5, name, ha='center', va='center', fontsize=14)
for s in bar.spines.values():
    s.set_visible(False)
bar.set_yticks([])
bar.set_xticks(np.arange(0, 451, 25))
bar.tick_params(axis='x', length=0, labelsize=13, pad=5)
bar.set_xlabel('Age (ka BP)', fontsize=15, labelpad=1)

fig.savefig('out.png', dpi=100)
